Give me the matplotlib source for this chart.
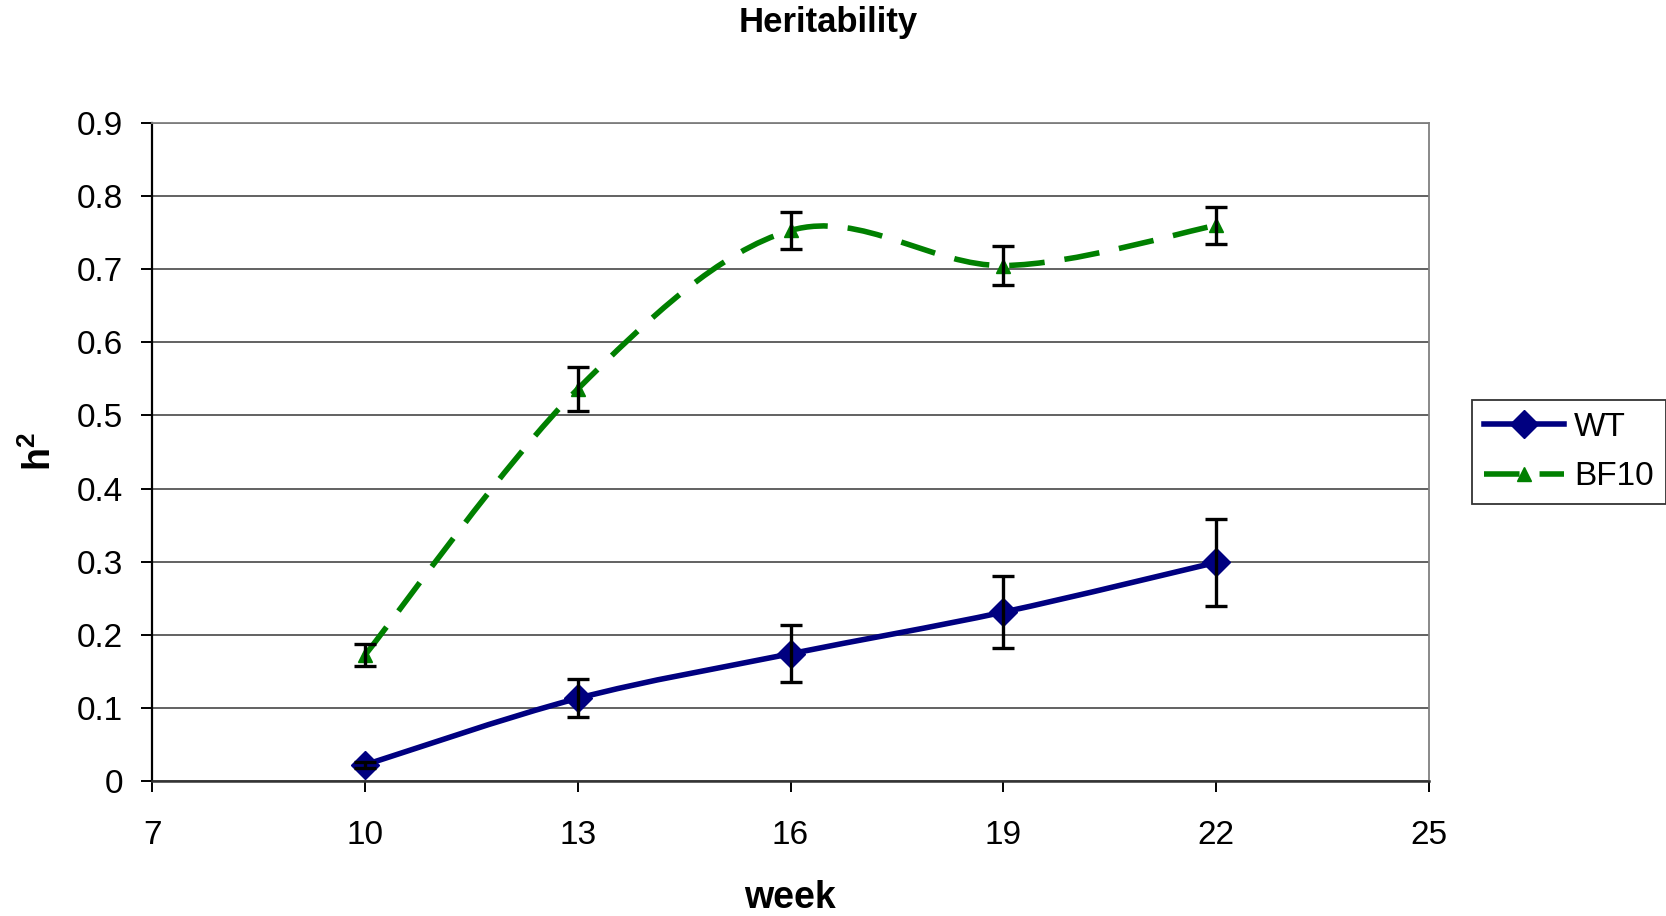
import numpy as np
import matplotlib
matplotlib.use("Agg")
from matplotlib import pyplot as plt
from matplotlib.path import Path
from matplotlib.patches import PathPatch
from matplotlib.lines import Line2D

weeks = [10, 13, 16, 19, 22]
wt = [0.022, 0.113, 0.174, 0.231, 0.299]
wt_err = [0.004, 0.026, 0.039, 0.049, 0.059]
bf10 = [0.172, 0.536, 0.753, 0.705, 0.760]
bf10_err = [0.015, 0.030, 0.025, 0.027, 0.025]

plt.rcParams['font.family'] = ['Liberation Sans', 'DejaVu Sans']
plt.rcParams['mathtext.fontset'] = 'custom'
plt.rcParams['mathtext.rm'] = 'Liberation Sans'
plt.rcParams['mathtext.bf'] = 'Liberation Sans:bold'

W, H = 1666, 916


def smooth_path(x, y):
    # Excel style smoothed line: Catmull-Rom control points as cubic Bezier
    pts = np.column_stack([x, y]).astype(float)
    ext = np.vstack([pts[0], pts, pts[-1]])
    verts = [pts[0]]
    codes = [Path.MOVETO]
    for i in range(1, len(ext) - 2):
        p0, p1, p2, p3 = ext[i - 1], ext[i], ext[i + 1], ext[i + 2]
        verts += [p1 + (p2 - p0) / 6, p2 - (p3 - p1) / 6, p2]
        codes += [Path.CURVE4] * 3
    return Path(verts, codes)


navy = '#000080'
green = '#008000'
lw = 4.0
dash = (0, (6.4, 3.6))

fig = plt.figure(figsize=(W / 100, H / 100), dpi=100)
ax = fig.add_axes([152 / W, 1 - 781 / H, (1429 - 152) / W, (781 - 123) / H])

ax.add_patch(PathPatch(smooth_path(weeks, wt), fill=False, color=navy,
                       lw=lw, zorder=3, capstyle='butt'))
ax.add_patch(PathPatch(smooth_path(weeks, bf10), fill=False, color=green,
                       lw=lw, zorder=3, linestyle=dash, capstyle='butt'))

ax.plot(weeks, wt, ls='none', marker='D', ms=14, color=navy, zorder=4)
ax.plot(weeks, bf10, ls='none', marker='^', ms=10, color=green, zorder=4)

for vals, errs in [(wt, wt_err), (bf10, bf10_err)]:
    ax.errorbar(weeks, vals, yerr=errs, fmt='none', ecolor='black', elinewidth=2.4,
                capsize=8, capthick=2.4, zorder=5)

ax.set_xlim(7, 25)
ax.set_ylim(0, 0.9)
ax.set_xticks(np.arange(7, 26, 3))
ax.set_yticks(np.arange(0, 0.91, 0.1))
ax.set_yticklabels(['0'] + [f'{v:.1f}' for v in np.arange(0.1, 0.91, 0.1)])
ax.yaxis.grid(True, color='#555555', lw=1.3)
ax.set_axisbelow(True)
for side in ['top', 'right']:
    ax.spines[side].set_color('#808080')
    ax.spines[side].set_linewidth(1.3)
ax.spines['left'].set_linewidth(1.6)
ax.spines['bottom'].set_linewidth(1.8)
ax.spines['bottom'].set_color('#333333')
ax.tick_params(axis='both', labelsize=24, length=8, width=1.4, direction='out')
ax.tick_params(axis='x', pad=20)
ax.tick_params(axis='y', pad=13)

fig.text(828 / W, 1 - 32 / H, 'Heritability', fontsize=25, fontweight='bold',
         ha='center', va='baseline')
fig.text(790 / W, 1 - 898 / H, 'week', fontsize=27, fontweight='bold',
         ha='center', va='center')
fig.text(40 / W, 1 - 452 / H, 'h$^\\mathbf{2}$', fontsize=27, fontweight='bold',
         ha='center', va='center', rotation=90)

handles = [Line2D([], [], color=navy, lw=lw, marker='D', ms=14),
           Line2D([], [], color=green, lw=lw, marker='^', ms=10, ls=dash)]
leg = fig.legend(handles, ['WT', 'BF10'], loc='upper left',
                 bbox_to_anchor=(1472 / W, 1 - 400 / H), fontsize=24,
                 frameon=True, fancybox=False, edgecolor='black', handlelength=2.4,
                 borderaxespad=0, handletextpad=0.3, labelspacing=0.55, borderpad=0.36)
leg.get_frame().set_linewidth(1.3)

fig.savefig('out.png', dpi=100)
